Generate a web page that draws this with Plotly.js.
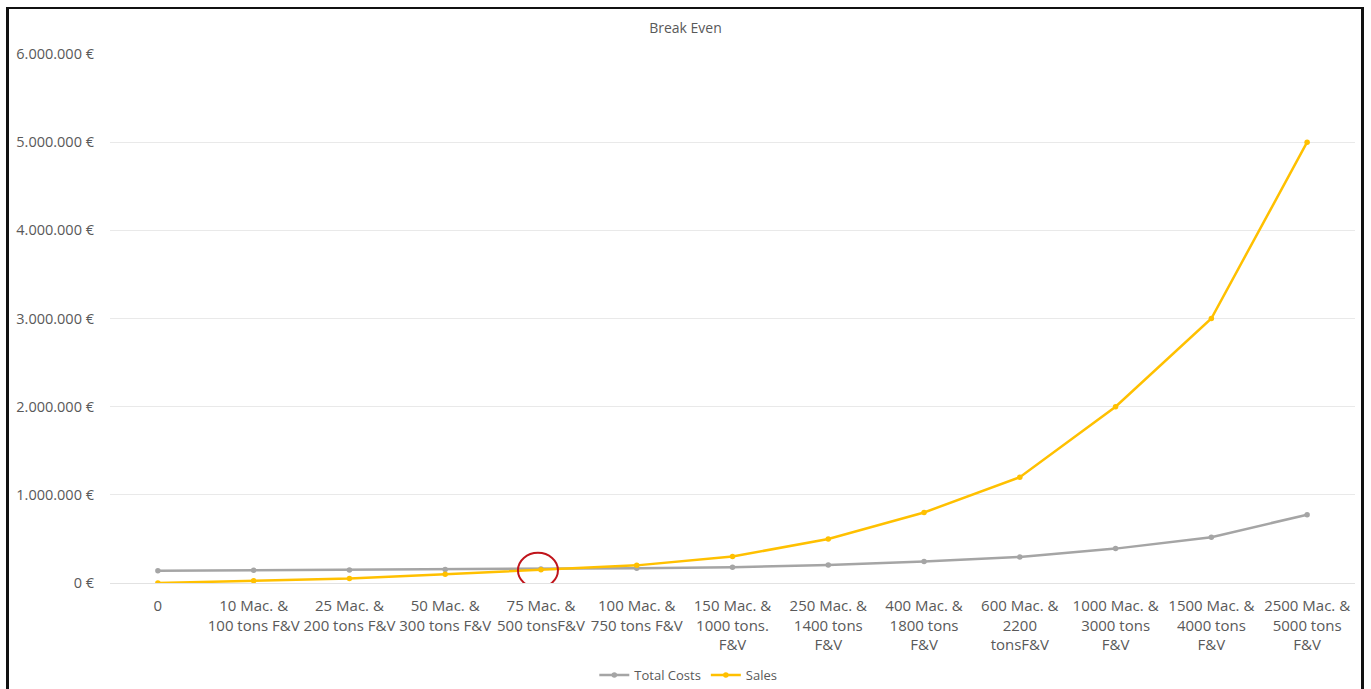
<!DOCTYPE html>
<html>
<head>
<meta charset="utf-8">
<script src="https://cdn.plot.ly/plotly-3.0.1.min.js"></script>
<style>
  html, body { margin: 0; padding: 0; background: #ffffff; }
  #wrap { position: relative; width: 1371px; height: 689px; overflow: hidden; }
  #chart { position: absolute; left: 0; top: 0; width: 1371px; height: 689px; }
  #frame {
    position: absolute; left: 6px; top: 7px; width: 1358px; height: 700px;
    border-left: 3px solid #111; border-top: 2px solid #111; border-right: 3px solid #111;
    pointer-events: none; box-sizing: border-box;
  }
</style>
</head>
<body>
<div id="wrap">
  <div id="chart"></div>
  <div id="frame"></div>
</div>
<script>
// Production scale steps: machines and tons of fruit & vegetables
const categories = [
  "0",
  "10 Mac. &<br>100 tons F&V",
  "25 Mac. &<br>200 tons F&V",
  "50 Mac. &<br>300 tons F&V",
  "75 Mac. &<br>500 tonsF&V",
  "100 Mac. &<br>750 tons F&V",
  "150 Mac. &<br>1000 tons.<br>F&V",
  "250 Mac. &<br>1400 tons<br>F&V",
  "400 Mac. &<br>1800 tons<br>F&V",
  "600 Mac. &<br>2200<br>tonsF&V",
  "1000 Mac. &<br>3000 tons<br>F&V",
  "1500 Mac. &<br>4000 tons<br>F&V",
  "2500 Mac. &<br>5000 tons<br>F&V"
];

// Euro amounts per step
const totalCosts = [140000, 145000, 148000, 152000, 158000, 168000, 180000, 205000, 245000, 295000, 390000, 520000, 775000];
const sales      = [0, 25000, 50000, 100000, 150000, 200000, 300000, 500000, 800000, 1200000, 2000000, 3000000, 5000000];

// Step where sales catch up with costs
const breakEvenIndex = 4;

// Value axis: 0 to 6 million euro in steps of 1 million
const yMax = 6000000;
const yStep = 1000000;

const idx = categories.map((_, i) => i);

const grey = "#A5A5A5";
const gold = "#FFC000";
const textGrey = "#595959";
const fontFam = "'Open Sans', 'Noto Sans', sans-serif";

const traces = [
  {
    x: idx, y: totalCosts, name: "Total Costs", type: "scatter", mode: "lines+markers",
    line: { color: grey, width: 2.5 },
    marker: { color: grey, size: 5.5 }
  },
  {
    x: idx, y: sales, name: "Sales", type: "scatter", mode: "lines+markers",
    line: { color: gold, width: 2.5 },
    marker: { color: gold, size: 5.5 }
  }
];

const layout = {
  width: 1371, height: 689,
  paper_bgcolor: "#ffffff", plot_bgcolor: "#ffffff",
  separators: ",.",
  margin: { l: 110, r: 16, t: 54, b: 106, autoexpand: false },
  font: { family: fontFam, color: textGrey, size: 14 },
  title: {
    text: "Break Even",
    font: { family: fontFam, size: 14, color: textGrey },
    x: 0.5, xref: "container", xanchor: "center",
    y: 1 - 28 / 689, yref: "container", yanchor: "middle"
  },
  xaxis: {
    type: "linear",
    range: [-0.5, categories.length - 0.5],
    tickmode: "array", tickvals: idx, ticktext: categories,
    showgrid: false, zeroline: false, showline: false, ticks: "",
    automargin: false,
    ticklabelstandoff: 12,
    tickfont: { family: fontFam, size: 15, color: textGrey },
    fixedrange: true
  },
  yaxis: {
    range: [0, yMax],
    tickmode: "linear", tick0: 0, dtick: yStep,
    tickformat: ",d", ticksuffix: " €", showticksuffix: "all",
    showgrid: true, gridcolor: "#E9E9E9", gridwidth: 1,
    zeroline: true, zerolinecolor: "#E2E2E2", zerolinewidth: 1,
    showline: false, ticks: "",
    automargin: false,
    ticklabelstandoff: 15,
    tickfont: { family: fontFam, size: 14.5, color: textGrey },
    fixedrange: true
  },
  showlegend: true,
  legend: {
    orientation: "h",
    x: 0.4645, xanchor: "center",
    y: -0.174, yanchor: "middle",
    font: { family: fontFam, size: 13, color: textGrey },
    itemwidth: 30, tracegroupgap: 0,
    bgcolor: "rgba(0,0,0,0)"
  },
  shapes: [
    {
      // highlight ring around the break-even point
      type: "circle", xref: "x", yref: "y",
      xsizemode: "pixel", ysizemode: "pixel",
      xanchor: breakEvenIndex, yanchor: sales[breakEvenIndex],
      x0: -23, x1: 17, y0: -18, y1: 17,
      line: { color: "#C0141B", width: 2 },
      fillcolor: "rgba(0,0,0,0)"
    }
  ]
};

Plotly.newPlot("chart", traces, layout, { staticPlot: true, displayModeBar: false });
</script>
</body>
</html>
